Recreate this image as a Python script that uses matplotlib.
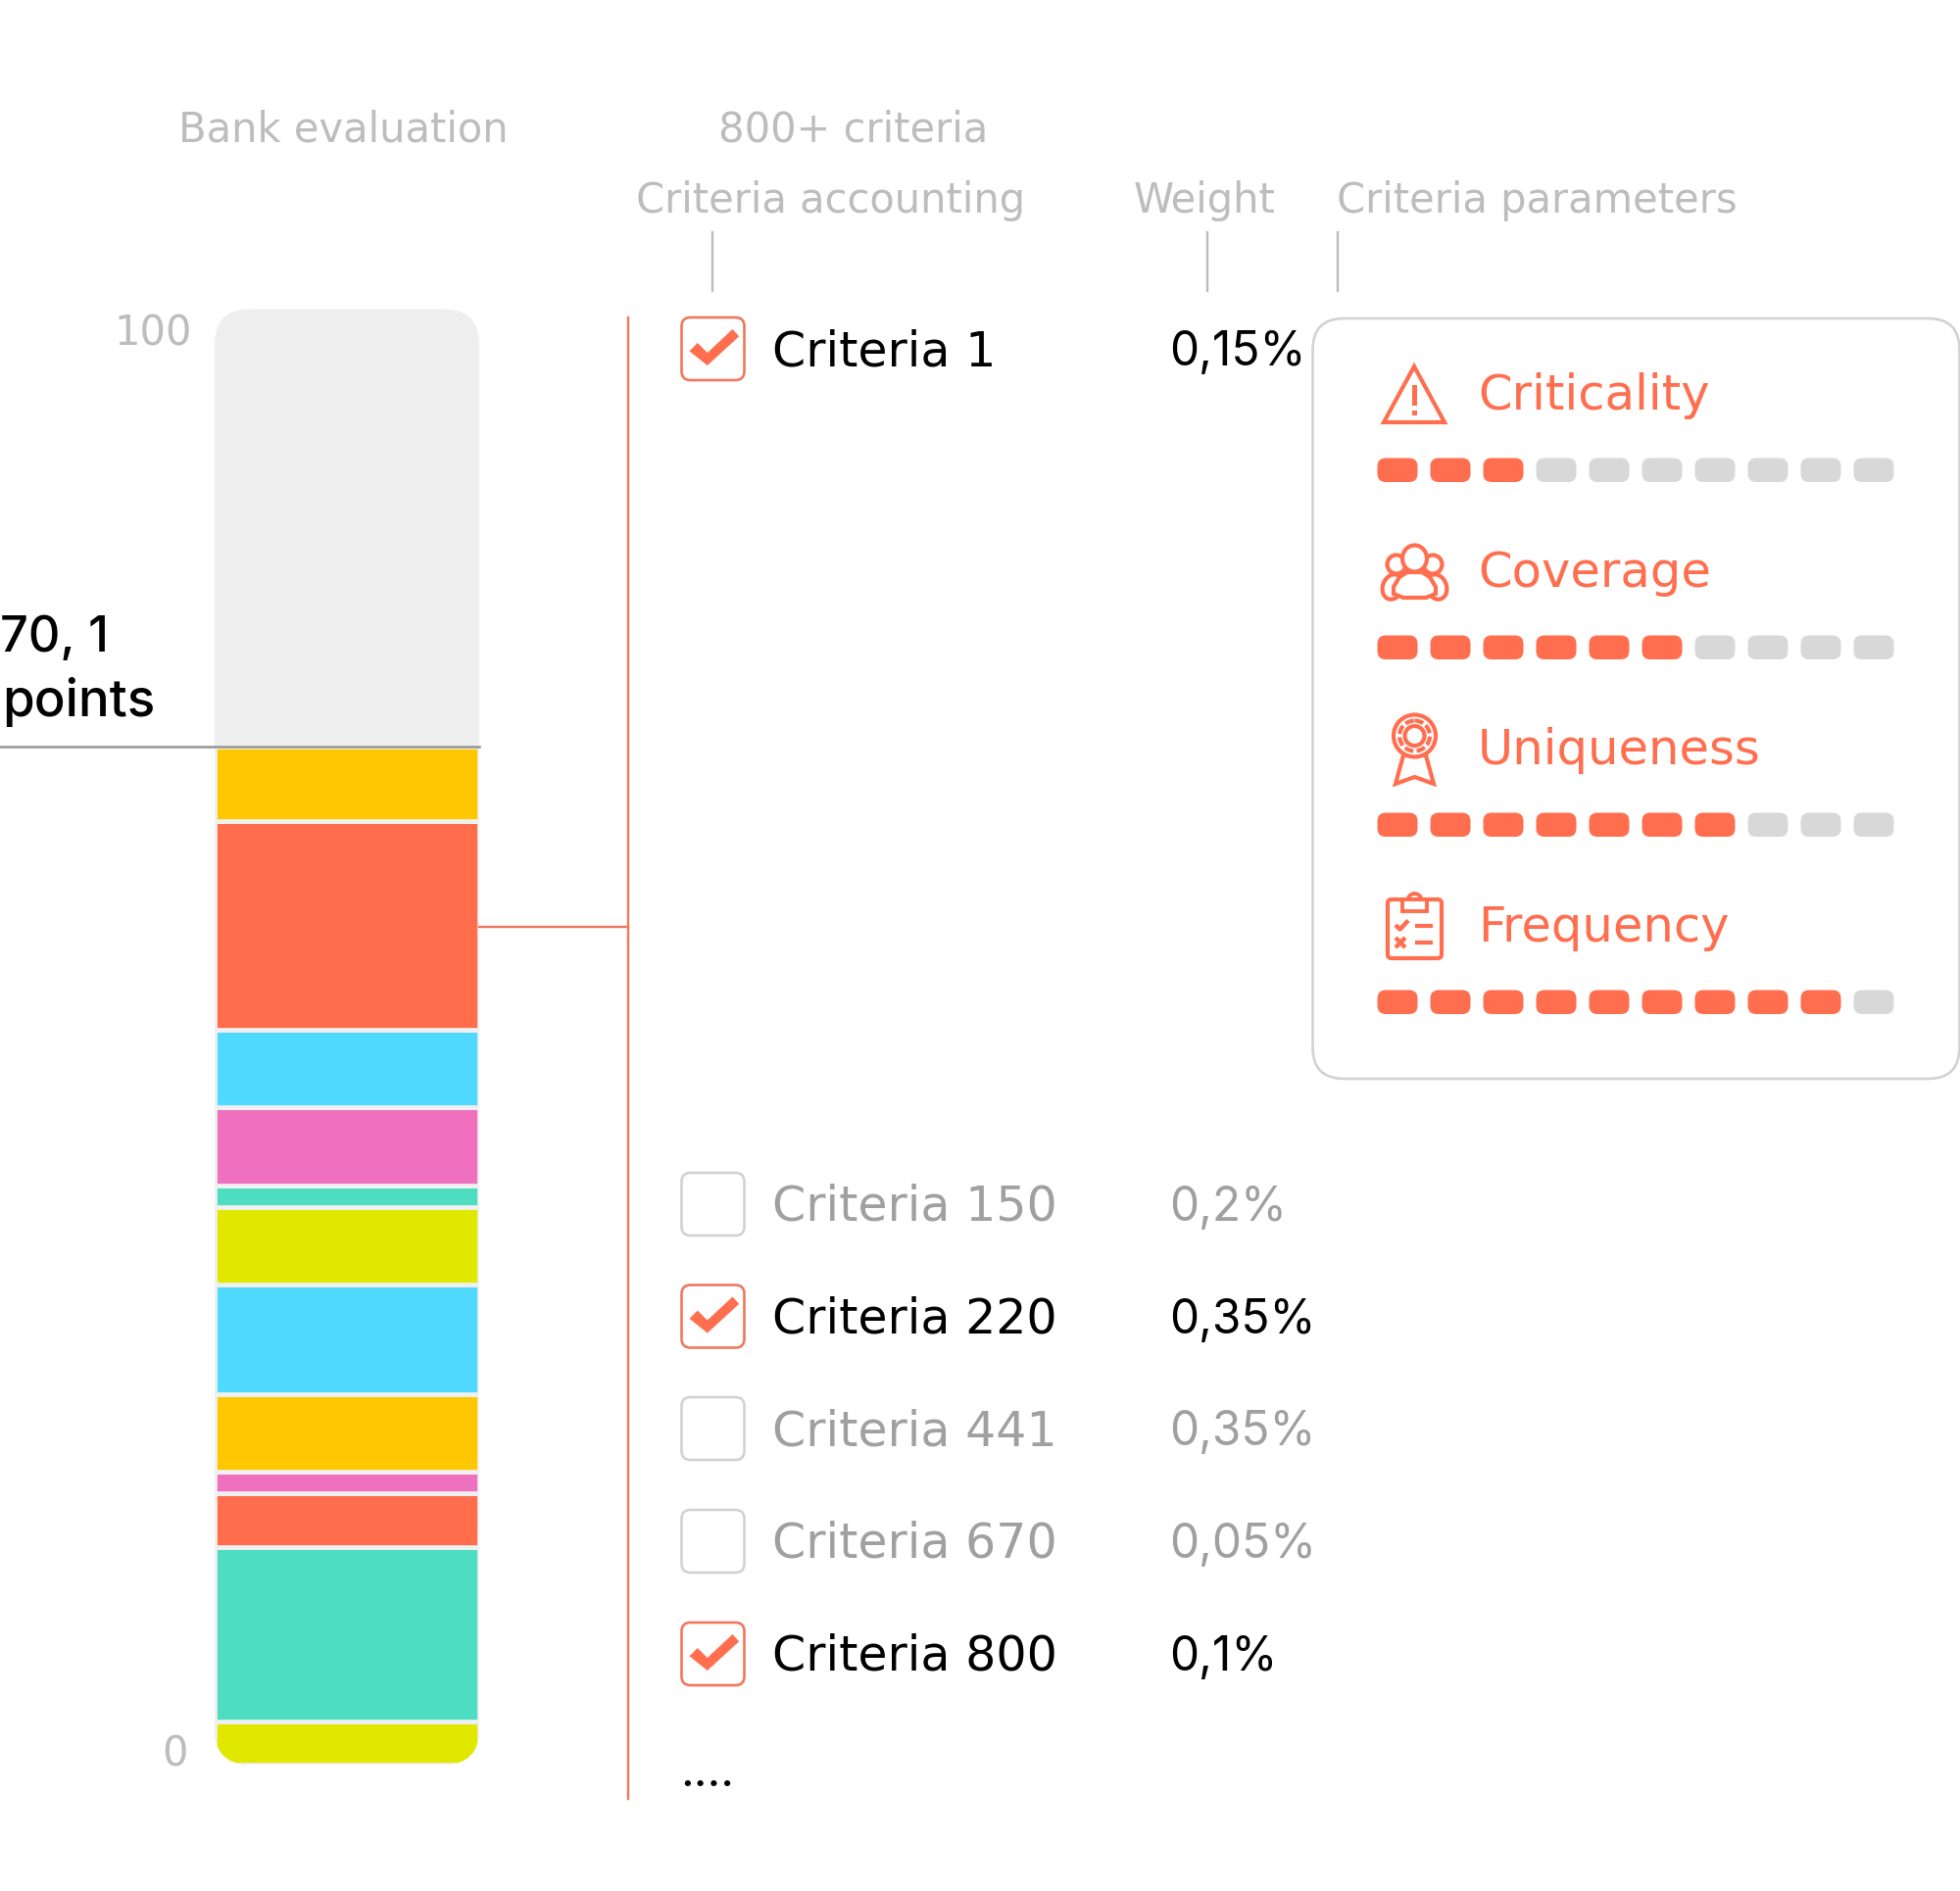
import matplotlib

matplotlib.use("Agg")
import matplotlib.pyplot as plt
from matplotlib.patches import Arc, Circle, Ellipse, FancyBboxPatch, Polygon, Rectangle

WIDTH, HEIGHT = 2000, 1931
FONT = "DejaVu Sans"
NUMBER_FONT = "Inter"

CORAL = "#FF6E4E"
LINE_CORAL = "#F0785C"
HEADER_GREY = "#BDBDBD"
MUTED_GREY = "#A0A0A0"
PILL_GREY = "#D8D8D8"

# stacked from the bottom up
SEGMENT_VALUES = [3.0, 12.0, 3.7, 1.5, 5.3, 7.6, 5.3, 1.5, 5.4, 5.3, 14.4, 5.1]
SEGMENT_COLORS = ["#E0E800", "#4DDDC1", "#FF6D4D", "#EE70BF", "#FFC700", "#50D9FF",
                  "#E0E800", "#4DDDC1", "#EE70BF", "#50D9FF", "#FF6D4D", "#FFC700"]
BANK_SCORE = 70.1

CRITERIA_NAMES = ["Criteria 1", "Criteria 150", "Criteria 220", "Criteria 441", "Criteria 670", "Criteria 800"]
CRITERIA_WEIGHTS = ["0,15%", "0,2%", "0,35%", "0,35%", "0,05%", "0,1%"]
CRITERIA_CHECKED = [True, False, True, False, False, True]

PARAM_NAMES = ["Criticality", "Coverage", "Uniqueness", "Frequency"]
PARAM_SCORES = [3, 6, 7, 9]
PARAM_MAX = 10

HEADERS = [("Bank evaluation", 182, 144.5), ("800+ criteria", 733, 144.5), ("Criteria accounting", 649, 217),
           ("Weight", 1157, 217), ("Criteria parameters", 1364, 217)]
ROW_CENTERS = [357, 1230, 1344.5, 1459, 1574, 1689]


def label(ax, x, y, text, size, color="black", family=FONT, weight="normal"):
    # y is the text baseline in pixels
    ax.text(x, y, text, fontsize=size, color=color, family=family, weight=weight, va="baseline", ha="left")


def rounded(x, y, w, h, r, **kwargs):
    return FancyBboxPatch((x, y), w, h, boxstyle=f"round,pad=0,rounding_size={r}", **kwargs)


def draw_bar(fig, layout):
    ax = fig.add_axes([219 / WIDTH, (HEIGHT - 1802) / HEIGHT, 270 / WIDTH, 1486 / HEIGHT], zorder=1)
    ax.set_xlim(0, 1)
    ax.set_ylim(0, 100.3)
    ax.axis("off")

    clip = rounded(219, 316.5, 270, 1485.5, 36, transform=layout.transData, facecolor="#EEEEEE", edgecolor="none")
    ax.add_patch(clip)

    bottom = 0
    for value, color in zip(SEGMENT_VALUES, SEGMENT_COLORS):
        bars = ax.bar(0.5, value, bottom=bottom, width=1.0, color=color, edgecolor="#F0F0F0", linewidth=3.4)
        bars[0].set_clip_path(clip)
        bottom += value

    ax.plot([-219 / 270, 1], [BANK_SCORE, BANK_SCORE], color="#9A9A9A", lw=1.9, clip_on=False, zorder=5)


def draw_check(ax, cx, cy):
    ax.add_patch(rounded(cx - 32, cy - 32, 64, 64, 9, facecolor="white", edgecolor=LINE_CORAL, lw=1.9))
    points = [(-24, 2.3), (-15.7, -6), (-5.7, 4), (20, -20), (26.7, -12.7), (-5.7, 17)]
    ax.add_patch(Polygon([(cx + px, cy + py) for px, py in points], facecolor=CORAL, edgecolor="none"))


def draw_criteria(ax):
    ax.plot([489, 641], [946.5, 946.5], color=LINE_CORAL, lw=1.7)
    ax.plot([641, 641], [325, 1837], color=LINE_CORAL, lw=1.7)
    for x in (727, 1232, 1365):
        ax.plot([x, x], [238, 298], color="#BDBDBD", lw=1.7)

    for name, weight, checked, cy in zip(CRITERIA_NAMES, CRITERIA_WEIGHTS, CRITERIA_CHECKED, ROW_CENTERS):
        if checked:
            draw_check(ax, 727.5, cy)
        else:
            ax.add_patch(rounded(695.5, cy - 32, 64, 64, 9, facecolor="white", edgecolor="#D2D2D2", lw=1.9))
        color = "black" if checked else MUTED_GREY
        label(ax, 788, cy + 16, name, 35.3, color)
        label(ax, 1193, cy + 16, weight, 34.4, color, family=NUMBER_FONT)

    label(ax, 694, 1823, "....", 34.4, family=NUMBER_FONT)


def draw_warning(ax):
    ax.add_patch(Polygon([(1412, 432), (1443, 375), (1474, 432)], closed=True, fill=False, edgecolor=CORAL, lw=3))
    ax.add_patch(Rectangle((1441, 394), 4.5, 21, color=CORAL, lw=0))
    ax.add_patch(Rectangle((1441, 420), 4.5, 5, color=CORAL, lw=0))


def draw_people(ax):
    style = dict(facecolor="white", edgecolor=CORAL, lw=3)
    ax.add_patch(Ellipse((1421, 600), 20, 26, angle=20, **style))
    ax.add_patch(Ellipse((1466, 600), 20, 26, angle=-20, **style))
    ax.add_patch(Circle((1425, 577), 9.5, **style))
    ax.add_patch(Circle((1462, 577), 9.5, **style))
    ax.add_patch(Ellipse((1443.5, 571), 25, 27, **style))
    body = Polygon([(1422, 607), (1422, 600), (1428, 590), (1436, 585), (1451, 585), (1459, 590),
                    (1465, 600), (1465, 607), (1455, 611), (1432, 611)], closed=True, **style)
    ax.add_patch(body)


def draw_ribbon(ax):
    ax.add_patch(Polygon([(1432, 772), (1424, 801), (1443.5, 794), (1463, 801), (1455, 772)],
                         closed=True, facecolor="white", edgecolor=CORAL, lw=3))
    ax.add_patch(Circle((1443.5, 752), 21.5, facecolor="white", edgecolor=CORAL, lw=3))
    ax.add_patch(Circle((1443.5, 752), 15.5, fill=False, edgecolor=CORAL, lw=3, linestyle=(0, (2.2, 0.8))))
    ax.add_patch(Circle((1443.5, 752), 10, facecolor="white", edgecolor=CORAL, lw=3))


def draw_clipboard(ax):
    ax.add_patch(rounded(1416, 919, 55, 60, 4, facecolor="white", edgecolor=CORAL, lw=3))
    ax.add_patch(Arc((1443.5, 920), 14, 14, theta1=180, theta2=360, edgecolor=CORAL, lw=2.8))
    ax.add_patch(Rectangle((1431, 919), 25, 12, facecolor="white", edgecolor=CORAL, lw=2.8))
    ax.plot([1424, 1428.5, 1437], [945, 949.5, 940.5], color=CORAL, lw=3.2, solid_capstyle="butt")
    ax.plot([1424, 1434], [958, 968], color=CORAL, lw=3.2, solid_capstyle="butt")
    ax.plot([1424, 1434], [968, 958], color=CORAL, lw=3.2, solid_capstyle="butt")
    for y in (946, 963):
        ax.plot([1444, 1462], [y, y], color=CORAL, lw=3, solid_capstyle="butt")


def draw_params(ax):
    ax.add_patch(rounded(1339.5, 326, 660, 776, 32, facecolor="white", edgecolor="#D2D2D2", lw=1.9))

    icons = [draw_warning, draw_people, draw_ribbon, draw_clipboard]
    for row, (name, score, icon) in enumerate(zip(PARAM_NAMES, PARAM_SCORES, icons)):
        icon(ax)
        label(ax, 1508, 418 + row * 181, name, 35.7, CORAL)
        for i in range(PARAM_MAX):
            color = CORAL if i < score else PILL_GREY
            ax.add_patch(rounded(1405.5 + i * 54, 468.5 + row * 181, 41, 24.5, 8.5, facecolor=color, edgecolor="none"))


def main():
    plt.rcParams["font.family"] = [FONT]
    fig = plt.figure(figsize=(WIDTH / 100, HEIGHT / 100), dpi=100, facecolor="white")

    layout = fig.add_axes([0, 0, 1, 1], zorder=2)
    layout.set_xlim(0, WIDTH)
    layout.set_ylim(HEIGHT, 0)
    layout.axis("off")

    draw_bar(fig, layout)
    draw_criteria(layout)
    draw_params(layout)

    for text, x, y in HEADERS:
        label(layout, x, y, text, 30, HEADER_GREY)
    label(layout, 116, 352.5, "100", 30, HEADER_GREY)
    label(layout, 165, 1803, "0", 30, HEADER_GREY)
    label(layout, 0, 665, "70, 1", 36.3, family=NUMBER_FONT, weight="medium")
    label(layout, 2, 731, "points", 38, family=NUMBER_FONT, weight="medium")

    fig.savefig("out.png", dpi=100)
    plt.close(fig)


if __name__ == "__main__":
    main()
